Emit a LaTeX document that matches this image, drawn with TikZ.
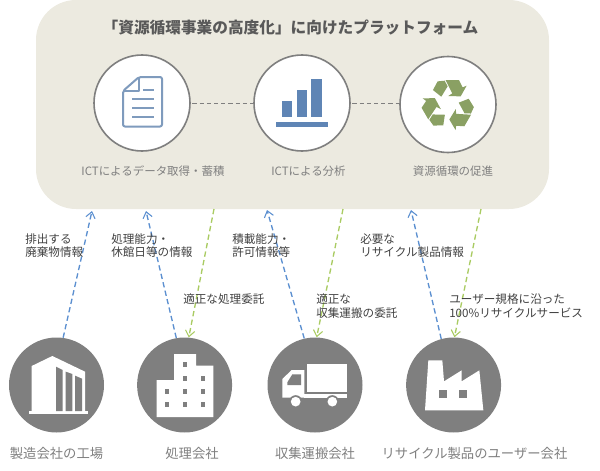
\documentclass[tikz,border=0pt]{standalone}
\usepackage{fontspec}
\setmainfont{Noto Sans CJK JP}
\usetikzlibrary{arrows.meta}
\definecolor{panelbg}{HTML}{ECEAE0}
\definecolor{ringgray}{HTML}{7F7F7F}
\definecolor{titlegray}{HTML}{595959}
\definecolor{notegray}{HTML}{404040}
\definecolor{docblue}{HTML}{7F9BBD}
\definecolor{barblue}{HTML}{5F85B5}
\definecolor{leafgreen}{HTML}{8AA063}
\definecolor{upblue}{HTML}{5B8FD0}
\definecolor{downgreen}{HTML}{A9CB62}
\newcommand{\jpsize}[1]{\fontsize{#1}{#1*1.2}\selectfont}
\tikzset{
  panelbox/.style={fill=panelbg,draw=none,rounded corners=30pt,inner sep=0pt,minimum width=384.75pt,minimum height=156.75pt},
  stagecircle/.style={circle,draw=ringgray,line width=1.2pt,fill=white,inner sep=0pt,minimum size=72pt},
  actorcircle/.style={circle,fill=ringgray,inner sep=0pt,minimum size=71.25pt},
  link/.style={draw=ringgray,line width=1.1pt,dash pattern=on 3.2pt off 2.2pt},
  uparrow/.style={draw=upblue,line width=1pt,dash pattern=on 4pt off 2.5pt,-{Straight Barb[length=4.5pt,width=7pt,line width=0.8pt]}},
  downarrow/.style={draw=downgreen,line width=1pt,dash pattern=on 4pt off 2.5pt,-{Straight Barb[length=4.5pt,width=7pt,line width=0.8pt]}},
  titletext/.style={font=\jpsize{11.75pt}\bfseries,text=titlegray,inner sep=0pt},
  stagetext/.style={font=\jpsize{8.6pt},text=ringgray,inner sep=0pt},
  actortext/.style={font=\jpsize{10pt},text=ringgray,inner sep=0pt},
  notetext/.style={font=\fontsize{8.7pt}{10.1pt}\selectfont,text=notegray,align=left,anchor=west,inner sep=0pt},
  icon/.style={x=.25pt,y=-.25pt},
}
\begin{document}
\begin{tikzpicture}[x=.75pt,y=-.75pt]
\useasboundingbox (0,0) rectangle (600,471);

% platform panel and its three stages; the links run behind the circles
\node[panelbox] (panel) at (292.5,104.5) {};
\coordinate (s1) at (142,103.5);
\coordinate (s2) at (302,103.5);
\coordinate (s3) at (448,103.5);
\draw[link] (s1) -- (s2);
\draw[link] (s2) -- (s3);
\node[stagecircle] (c1) at (142,103) {};
\node[stagecircle] (c2) at (302,103) {};
\node[stagecircle] (c3) at (448,104.5) {};
\node[titletext] (title) at (290.5,28) {「資源循環事業の高度化」に向けたプラットフォーム};
\node[stagetext] (l1) at (153,171) {ICTによるデータ取得・蓄積};
\node[stagetext] (l2) at (308.5,171) {ICTによる分析};
\node[stagetext] (l3) at (453,171) {資源循環の促進};

% document icon
\begin{scope}[draw=docblue,line width=1.5pt,line join=round]
  \draw[rounded corners=1.5pt] (139,77) -- (162,77) -- (162,126.5) -- (123,126.5) -- (123,91) -- cycle;
  \draw (139,77) -- (139,90.5) -- (123,90.5);
  \draw (143,89.5) -- (154,89.5);
  \draw (132,98.5) -- (154,98.5);
  \draw (132,107.5) -- (154,107.5);
  \draw (132,116.5) -- (154,116.5);
\end{scope}

% bar chart icon
\fill[barblue] (276,122) rectangle (328,127);
\fill[barblue] (282,101) rectangle (292,117);
\fill[barblue] (297,90) rectangle (307,117);
\fill[barblue] (311,79) rectangle (322,117);

% recycling icon: one band and one arrow, repeated at 120 degrees
\foreach \ang in {0,120,240}{
  \begin{scope}[shift={(448.3,104.7)},rotate=\ang,icon,shift={(-100,-98)}]
    \fill[leafgreen] (54,54) -- (68,28) -- (89,26) -- (98,43) -- (79,74) -- cycle;
    \fill[leafgreen] (92,24) -- (132,24) -- (143,46) -- (155,41) -- (137,73) -- (100,72) -- (112,64) -- cycle;
  \end{scope}
}

% the four companies
\node[actorcircle] (a1) at (56.5,385) {};
\node[actorcircle] (a2) at (184.6,385) {};
\node[actorcircle] (a3) at (315,385) {};
\node[actorcircle] (a4) at (453.6,385) {};
\node[actortext] (t1) at (56.5,453) {製造会社の工場};
\node[actortext] (t2) at (192,453) {処理会社};
\node[actortext] (t3) at (315,453) {収集運搬会社};
\node[actortext] (t4) at (474.5,453) {リサイクル製品のユーザー会社};

% tower block
\begin{scope}[shift={(20,350)},icon]
  \fill[white] (35,48) -- (97,18) -- (195,65) -- (195,183) -- (35,183) -- cycle;
  \fill[white] (27,183) rectangle (205,193);
  \fill[ringgray] (108,50) -- (128,60) -- (128,183) -- (108,183) -- cycle;
  \fill[ringgray] (137,65) -- (157,72) -- (157,183) -- (137,183) -- cycle;
  \fill[ringgray] (165,77) -- (186,86) -- (186,183) -- (165,183) -- cycle;
\end{scope}

% office building
\begin{scope}[shift={(150,350)},icon]
  \fill[white] (72,12) -- (138,12) -- (138,47) -- (190,47) -- (190,201) -- (20,201) -- (20,90) -- (72,90) -- cycle;
  \foreach \wx/\wy in {104/44,104/84,159/84,50/124,104/124,159/124,50/164,104/164,159/164}
    \fill[ringgray] (\wx-6.5,\wy-7.5) rectangle (\wx+6.5,\wy+7.5);
\end{scope}

% truck
\begin{scope}[shift={(275,355)},icon]
  \fill[white] (97,27) rectangle (215,112);
  \fill[white] (22,72) -- (50,45) -- (88,45) -- (88,128) -- (22,128) -- cycle;
  \fill[white] (88,118) rectangle (215,128);
  \fill[ringgray] (37,82) -- (37,90) -- (78,90) -- (78,58) -- (52,58) -- cycle;
  \foreach \wx in {62,172}{
    \fill[ringgray] (\wx,140) circle[radius=19.5];
    \fill[white] (\wx,140) circle[radius=14.5];
  }
\end{scope}

% factory
\begin{scope}[shift={(420,352)},icon]
  \fill[white] (25,25) -- (67,25) -- (72,88) -- (125,55) -- (125,88) -- (178,55) -- (190,175) -- (15,175) -- cycle;
  \fill[ringgray] (58,115) rectangle (80,137);
  \fill[ringgray] (118,115) rectangle (140,137);
\end{scope}

% free ends of the flows along the panel's lower edge
\coordinate (pu1) at (92,211);
\coordinate (pu2) at (146,211);
\coordinate (pu3) at (267,210);
\coordinate (pu4) at (411,210);
\coordinate (pd1) at (214,209);
\coordinate (pd2) at (343,209);
\coordinate (pd3) at (481,209);

% information going up, commissions coming down
\draw[uparrow] (a1.82) -- (pu1);
\draw[uparrow] (a2.100) -- (pu2);
\draw[uparrow] (a3.103) -- (pu3);
\draw[uparrow] (a4.105) -- (pu4);
\draw[downarrow] (pd1) -- (a2.85);
\draw[downarrow] (pd2) -- (a3.88);
\draw[downarrow] (pd3) -- (a4.89);

% flow captions
\node[notetext] (n1) at (25,245.5) {排出する\\廃棄物情報};
\node[notetext] (n2) at (111,245.5) {処理能力・\\休館日等の情報};
\node[notetext] (n3) at (183,299) {適正な処理委託};
\node[notetext] (n4) at (232,245.5) {積載能力・\\許可情報等};
\node[notetext] (n5) at (360,245.5) {必要な\\リサイクル製品情報};
\node[notetext] (n6) at (316,306) {適正な\\収集運搬の委託};
\node[notetext] (n7) at (449,306) {ユーザー規格に沿った\\100\%リサイクルサービス};
\end{tikzpicture}
\end{document}
